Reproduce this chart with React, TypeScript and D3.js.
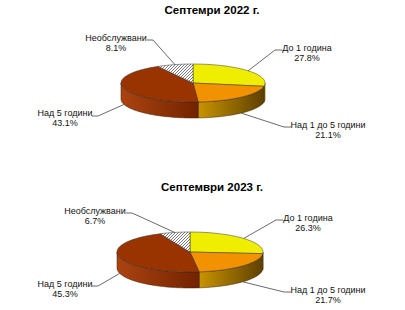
import React from "react";
import * as d3 from "d3";

const categories = ["До 1 година", "Над 1 до 5 години", "Над 5 години", "Необслужвани"];
const titles = ["Септемри 2022 г.", "Септември 2023 г."];
const values2022 = [27.8, 21.1, 43.1, 8.1];
const values2023 = [26.3, 21.7, 45.3, 6.7];
const seriesList = [values2022, values2023];

const topColors = ["#F0EE00", "#F29200", "#993300", "url(#hatch)"];
const sideFrom = ["#A8A400", "#C99400", "#AC4310", "#888888"];
const sideTo = ["#7C7800", "#5E4000", "#722300", "#666666"];

// layout per chart
const charts = [
  { cx: 193, cy: 83, rx: 72, ry: 19, depth: 16, titleY: 14,
    labels: [
      { x: 307, y: 51, side: "left", lx: 282, ly: 50 },
      { x: 328, y: 128, side: "left", lx: 291, ly: 127 },
      { x: 65, y: 116, side: "right", lx: 92, ly: 116 },
      { x: 116, y: 41, side: "right", lx: 147, ly: 40 },
    ] },
  { cx: 190, cy: 252, rx: 73, ry: 20, depth: 16, titleY: 191,
    labels: [
      { x: 308, y: 221, side: "left", lx: 283, ly: 220 },
      { x: 328, y: 293, side: "left", lx: 291, ly: 292 },
      { x: 65, y: 287, side: "right", lx: 92, ly: 286 },
      { x: 95, y: 214, side: "right", lx: 126, ly: 213 },
    ] },
];

const font = "'Liberation Sans', Arial, sans-serif";

function Pie3D({ values, title, lay, idx }: any) {
  const pie = d3.pie<number>().sort(null).value((d) => d);
  const arcs = pie(values);
  const P = (t: number, dy = 0): [number, number] => [
    lay.cx + lay.rx * Math.sin(t),
    lay.cy - lay.ry * Math.cos(t) + dy,
  ];
  const samples = (a: number, b: number, dy = 0) => {
    const n = Math.max(2, Math.ceil(Math.abs(b - a) / 0.03));
    return d3.range(n + 1).map((i) => P(a + ((b - a) * i) / n, dy));
  };
  const line = d3.line();
  const sides = arcs.map((a, i) => {
    const s = Math.max(a.startAngle, Math.PI / 2);
    const e = Math.min(a.endAngle, (3 * Math.PI) / 2);
    if (s >= e) return null;
    const pts = [...samples(s, e), ...samples(e, s, lay.depth)];
    return (
      <path key={"s" + i} d={line(pts as any) + "Z"} fill={`url(#side${idx}_${i})`} stroke="#3a2000" strokeWidth={0.5} />
    );
  });
  const tops = arcs.map((a, i) => {
    const pts = [[lay.cx, lay.cy], ...samples(a.startAngle, a.endAngle)];
    return <path key={"t" + i} d={line(pts as any) + "Z"} fill={topColors[i]} stroke="#333" strokeWidth={0.5} />;
  });
  const labels = arcs.map((a, i) => {
    const L = lay.labels[i];
    const mid = (a.startAngle + a.endAngle) / 2;
    const front = Math.cos(mid) < 0;
    const [ex, ey] = P(mid, front ? lay.depth : 0);
    const hx = L.side === "left" ? L.lx - 7 : L.lx + 6;
    return (
      <g key={"l" + i}>
        <polyline points={`${L.lx},${L.ly} ${hx},${L.ly} ${ex},${ey}`} fill="none" stroke="#444" strokeWidth={0.8} />
        <text x={L.x} y={L.y} textAnchor="middle" fontSize={9} fontFamily={font} fill="#111">{categories[i]}</text>
        <text x={L.x} y={L.y + 10} textAnchor="middle" fontSize={9} fontFamily={font} fill="#111">{a.data.toFixed(1)}%</text>
      </g>
    );
  });
  return (
    <g>
      <defs>
        {arcs.map((a, i) => (
          <linearGradient key={i} id={`side${idx}_${i}`} x1="0" y1="0" x2="1" y2="0">
            <stop offset="0" stopColor={sideFrom[i]} />
            <stop offset="1" stopColor={sideTo[i]} />
          </linearGradient>
        ))}
      </defs>
      <text x={212} y={lay.titleY} textAnchor="middle" fontSize={11.5} fontWeight="bold" fontFamily={font} fill="#000">{title}</text>
      {sides}
      {tops}
      {labels}
    </g>
  );
}

export default function App() {
  return (
    <svg width={405} height={310} style={{ position: "absolute", left: 0, top: 0, background: "#fff" }}>
      <defs>
        <pattern id="hatch" patternUnits="userSpaceOnUse" width={3} height={3}>
          <rect width={3} height={3} fill="#fff" />
          <path d="M-1,1 L1,-1 M0,3 L3,0 M2,4 L4,2" stroke="#7a7a7a" strokeWidth={1} />
        </pattern>
      </defs>
      {seriesList.map((v, i) => (
        <Pie3D key={i} values={v} title={titles[i]} lay={charts[i]} idx={i} />
      ))}
    </svg>
  );
}
